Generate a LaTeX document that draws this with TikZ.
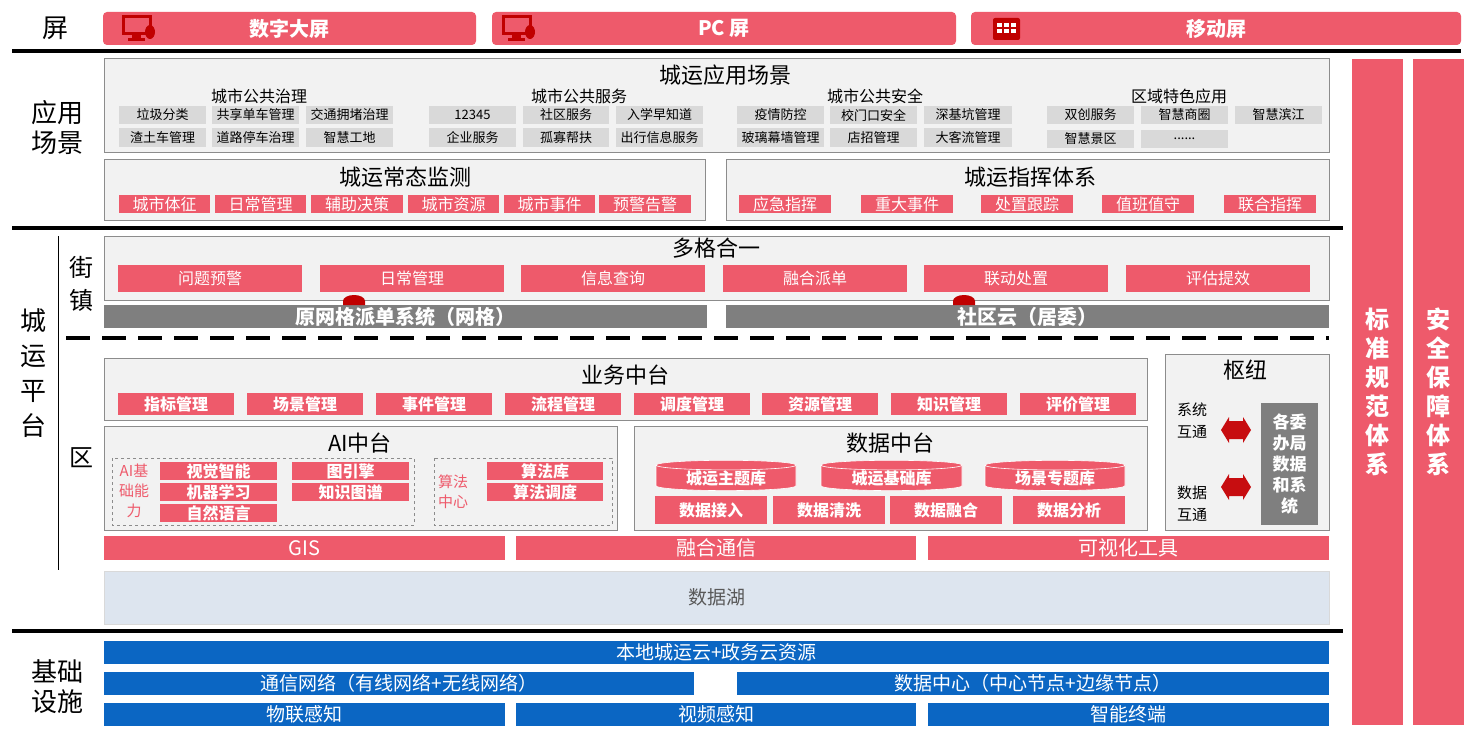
\documentclass[tikz,border=0pt]{standalone}
\usepackage{fontspec}
\setmainfont{Noto Sans CJK SC}
\usetikzlibrary{shapes.geometric,shapes.arrows}
\definecolor{rd}{HTML}{EE5A6B}
\definecolor{drd}{HTML}{C00000}
\definecolor{pg}{HTML}{F2F2F2}
\definecolor{bd}{HTML}{8C8C8C}
\definecolor{it}{HTML}{D9D9D9}
\definecolor{dg}{HTML}{7F7F7F}
\definecolor{bl}{HTML}{0B66C3}
\definecolor{lk}{HTML}{DDE5EF}
\newcommand\bx[6]{\node[#5, minimum width={((#3)-(#1))*1pt}, minimum height={((#4)-(#2))*1pt}] at ({((#1)+(#3))/2},{((#2)+(#4))/2}) {#6};}
\tikzset{
 base/.style={inner sep=0pt, outer sep=0pt, font=\fontsize{13}{13}\selectfont},
 panel/.style={base, fill=pg, draw=bd, line width=1pt},
 item/.style={base, fill=it},
 ritem/.style={base, fill=rd, text=white, font=\fontsize{16}{16}\selectfont},
 bitem/.style={base, fill=rd, text=white, font=\fontsize{16}{16}\selectfont\bfseries},
 gbar/.style={base, fill=dg, text=white, font=\fontsize{20}{20}\selectfont\bfseries},
 blue/.style={base, fill=bl, text=white, font=\fontsize{19}{19}\selectfont},
 ttl/.style={inner sep=0pt, font=\fontsize{22}{22}\selectfont},
 sub/.style={inner sep=0pt, font=\fontsize{16}{16}\selectfont},
 lbl/.style={inner sep=0pt, font=\fontsize{26}{30}\selectfont, align=center},
 top/.style={base, fill=rd, rounded corners=4pt, text=white, font=\fontsize{20}{20}\selectfont\bfseries},
 thick line/.style={line width=4pt, black},
 darr/.style={fill=drd!85!rd},
}
\begin{document}
\begin{tikzpicture}[x=1pt,y=-1pt]
\useasboundingbox (0,0) rectangle (1466,741);
\fill[white] (0,0) rectangle (1466,741);
% top row
\node[lbl] (ping) at (55,28) {屏};
\bx{103}{12}{476}{45}{top}{数字大屏}
\bx{492}{12}{956}{45}{top}{PC 屏}
\bx{971}{12}{1461}{45}{top}{移动屏}
\foreach \x in {123,503}{
 \draw[drd, line width=3pt] (\x,17) rectangle ++(27,17);
 \fill[drd] (\x+9,34) rectangle ++(9,4); \fill[drd] (\x+5,38) rectangle ++(17,3);
 \fill[drd] (\x+27,32) ellipse (5pt and 7pt);
}
\fill[drd, rounded corners=2pt] (993,18) rectangle (1020,40);
\foreach \i in {0,1,2}\foreach \j in {0,1}{\fill[white] (997+\i*7,23+\j*6) rectangle ++(5,4);}
\draw[thick line] (12,51) -- (1461,51);
% application layer
\node[lbl] (yy) at (57,128) {应用\\场景};
\bx{104}{59}{1329}{152}{panel}{}
\node[ttl] at (725,75) {城运应用场景};
\node[sub] at (259,96) {城市公共治理};
\node[sub] at (579,96) {城市公共服务};
\node[sub] at (875,96) {城市公共安全};
\node[sub] at (1179,96) {区域特色应用};
\bx{119}{106}{206}{124}{item}{垃圾分类}
\bx{212}{106}{299}{124}{item}{共享单车管理}
\bx{306}{106}{393}{124}{item}{交通拥堵治理}
\bx{119}{128}{206}{147}{item}{渣土车管理}
\bx{212}{128}{299}{147}{item}{道路停车治理}
\bx{306}{128}{393}{147}{item}{智慧工地}
\bx{429}{106}{516}{124}{item}{12345}
\bx{523}{106}{609}{124}{item}{社区服务}
\bx{616}{106}{703}{124}{item}{入学早知道}
\bx{429}{128}{516}{147}{item}{企业服务}
\bx{523}{128}{609}{147}{item}{孤寡帮扶}
\bx{616}{128}{703}{147}{item}{出行信息服务}
\bx{737}{106}{824}{124}{item}{疫情防控}
\bx{830}{106}{917}{124}{item}{校门口安全}
\bx{924}{106}{1012}{124}{item}{深基坑管理}
\bx{737}{128}{824}{147}{item}{玻璃幕墙管理}
\bx{830}{128}{917}{147}{item}{店招管理}
\bx{924}{128}{1012}{147}{item}{大客流管理}
\bx{1047}{106}{1134}{124}{item}{双创服务}
\bx{1141}{106}{1228}{124}{item}{智慧商圈}
\bx{1235}{106}{1322}{124}{item}{智慧滨江}
\bx{1047}{130}{1134}{148}{item}{智慧景区}
\bx{1141}{130}{1228}{148}{item}{......}
\bx{104}{159}{705}{220}{panel}{}
\node[ttl] at (405,177) {城运常态监测};
\bx{119}{195}{210}{213}{ritem}{城市体征}
\bx{215}{195}{306}{213}{ritem}{日常管理}
\bx{311}{195}{403}{213}{ritem}{辅助决策}
\bx{408}{195}{499}{213}{ritem}{城市资源}
\bx{504}{195}{595}{213}{ritem}{城市事件}
\bx{599}{195}{691}{213}{ritem}{预警告警}
\bx{726}{159}{1329}{220}{panel}{}
\node[ttl] at (1030,177) {城运指挥体系};
\bx{739}{195}{831}{213}{ritem}{应急指挥}
\bx{861}{195}{953}{213}{ritem}{重大事件}
\bx{981}{195}{1073}{213}{ritem}{处置跟踪}
\bx{1102}{195}{1194}{213}{ritem}{值班值守}
\bx{1224}{195}{1316}{213}{ritem}{联合指挥}
\draw[thick line] (12,228) -- (1343,228);
% right columns
\bx{1352}{59}{1403}{725}{base, fill=rd, text=white, align=center, font=\fontsize{24}{29}\selectfont\bfseries}{标\\准\\规\\范\\体\\系}
\bx{1413}{59}{1464}{725}{base, fill=rd, text=white, align=center, font=\fontsize{24}{29}\selectfont\bfseries}{安\\全\\保\\障\\体\\系}
% platform
\node[lbl, font=\fontsize{26}{35}\selectfont] (cy) at (33,373) {城\\运\\平\\台};
\draw[black, line width=1pt] (58,236) -- (58,570);
\node[lbl, font=\fontsize{24}{33}\selectfont] (jz) at (81,284) {街\\镇};
\node[lbl, font=\fontsize{24}{24}\selectfont] (qu) at (81,458) {区};
\bx{104}{236}{1329}{300}{panel}{}
\node[ttl] at (716,248) {多格合一};
\foreach \c/\t in {210/问题预警,412/日常管理,613/信息查询,815/融合派单,1016/联动处置,1218/评估提效}{
 \bx{\c-92}{265}{\c+92}{292}{ritem}{\t}}
\bx{104}{305}{707}{328}{gbar}{原网格派单系统（网格）}
\bx{726}{305}{1329}{328}{gbar}{社区云（居委）}
\foreach \x in {354,964}{\fill[drd] (\x-11,305) -- (\x-11,301) arc[start angle=180,end angle=360,x radius=11,y radius=6] -- (\x+11,305) -- cycle;}
\draw[black, line width=4pt, dash pattern=on 24pt off 12pt] (66,338) -- (1329,338);
\bx{104}{358}{1147}{420}{panel}{}
\node[ttl] at (625,375) {业务中台};
\foreach \c/\t in {176/指标管理,305/场景管理,434/事件管理,563/流程管理,692/调度管理,820/资源管理,949/知识管理,1078/评价管理}{
 \bx{\c-58}{393}{\c+58}{415}{bitem}{\t}}
% hub
\bx{1165}{354}{1329}{530}{panel}{}
\node[ttl] at (1245,370) {枢纽};
\node[sub, align=center, font=\fontsize{15}{22}\selectfont] at (1192,421) {系统\\互通};
\node[sub, align=center, font=\fontsize{15}{22}\selectfont] at (1192,504) {数据\\互通};
\foreach \y in {430,487}{
 \fill[darr] (1221,\y) -- (1229,\y-13) -- (1229,\y-9) -- (1243,\y-9) -- (1243,\y-13) -- (1251,\y) -- (1243,\y+13) -- (1243,\y+9) -- (1229,\y+9) -- (1229,\y+13) -- cycle;}
\bx{1261}{403}{1318}{525}{base, fill=dg, text=white, align=center, font=\fontsize{17}{21}\selectfont\bfseries}{各委\\办局\\数据\\和系\\统}
% AI
\bx{104}{426}{617}{530}{panel}{}
\node[ttl] at (360,443) {AI中台};
\draw[bd, dashed, line width=1pt] (112,458) rectangle (414,525);
\draw[bd, dashed, line width=1pt] (434,458) rectangle (612,525);
\node[sub, text=rd, align=center, font=\fontsize{15}{20}\selectfont] at (134,491) {AI基\\础能\\力};
\bx{160}{462}{277}{480}{bitem}{视觉智能}
\bx{160}{483}{277}{501}{bitem}{机器学习}
\bx{160}{504}{277}{522}{bitem}{自然语言}
\bx{292}{462}{409}{480}{bitem}{图引擎}
\bx{292}{483}{409}{501}{bitem}{知识图谱}
\node[sub, text=rd, align=center, font=\fontsize{15}{20}\selectfont] at (453,492) {算法\\中心};
\bx{487}{462}{603}{480}{bitem}{算法库}
\bx{487}{483}{603}{501}{bitem}{算法调度}
% data
\bx{634}{426}{1147}{530}{panel}{}
\node[ttl] at (890,443) {数据中台};
\foreach \a/\b/\t in {656/796/城运主题库,821/962/城运基础库,985/1125/场景专题库}{
 \node[cylinder, shape border rotate=90, aspect=0.12, fill=rd, draw=white, line width=0.6pt, text=white, font=\fontsize{16}{16}\selectfont\bfseries, inner sep=0pt, minimum width={(\b-\a)*1pt}, minimum height=29pt] at ({(\a+\b)/2},478) {\t};}
\bx{655}{496}{767}{524}{bitem}{数据接入}
\bx{773}{496}{885}{524}{bitem}{数据清洗}
\bx{890}{496}{1002}{524}{bitem}{数据融合}
\bx{1013}{496}{1125}{524}{bitem}{数据分析}
\bx{104}{536}{505}{560}{base, fill=rd, text=white, font=\fontsize{20}{20}\selectfont}{GIS}
\bx{516}{536}{916}{560}{base, fill=rd, text=white, font=\fontsize{20}{20}\selectfont}{融合通信}
\bx{928}{536}{1329}{560}{base, fill=rd, text=white, font=\fontsize{20}{20}\selectfont}{可视化工具}
\bx{104}{571}{1329}{624}{base, fill=lk, draw=it, text=black!65, font=\fontsize{19}{19}\selectfont}{数据湖}
\draw[thick line] (12,631) -- (1343,631);
% infrastructure
\node[lbl] (jc) at (57,687) {基础\\设施};
\bx{104}{641}{1329}{664}{blue}{本地城运云+政务云资源}
\bx{104}{672}{694}{695}{blue}{通信网络（有线网络+无线网络）}
\bx{737}{672}{1329}{695}{blue}{数据中心（中心节点+边缘节点）}
\bx{104}{703}{505}{726}{blue}{物联感知}
\bx{516}{703}{916}{726}{blue}{视频感知}
\bx{928}{703}{1329}{726}{blue}{智能终端}
\end{tikzpicture}
\end{document}
